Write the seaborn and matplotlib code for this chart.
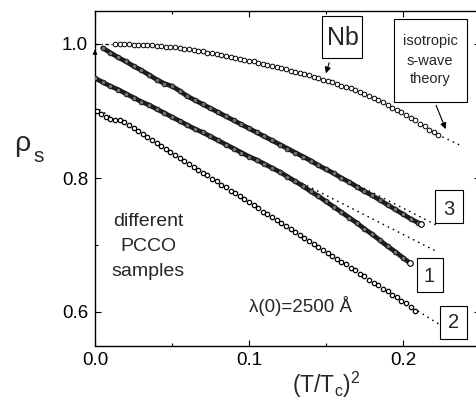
import matplotlib
matplotlib.use('Agg')
import matplotlib.pyplot as plt
from matplotlib.patches import Rectangle
from matplotlib.ticker import MultipleLocator
import seaborn as sns

# (T/Tc)^2 and superfluid density
t2_nb = [0.013, 0.016, 0.019, 0.022, 0.025, 0.028, 0.031, 0.034, 0.037, 0.040,
         0.043, 0.046, 0.049, 0.052, 0.055, 0.058, 0.061, 0.064, 0.067, 0.070,
         0.073, 0.076, 0.079, 0.082, 0.085, 0.088, 0.091, 0.094, 0.097, 0.100,
         0.103, 0.106, 0.109, 0.112, 0.115, 0.118, 0.121, 0.124, 0.127, 0.130,
         0.133, 0.136, 0.139, 0.142, 0.145, 0.148, 0.151, 0.154, 0.157, 0.160,
         0.163, 0.166, 0.169, 0.172, 0.175, 0.178, 0.181, 0.184, 0.187, 0.190,
         0.193, 0.196, 0.199, 0.202, 0.205, 0.208, 0.211, 0.214, 0.217, 0.220,
         0.223]
rho_nb = [1.000, 1.000, 1.000, 1.000, 0.999, 0.999, 0.999, 0.998, 0.998, 0.997,
          0.997, 0.996, 0.995, 0.995, 0.994, 0.993, 0.992, 0.991, 0.990, 0.989,
          0.987, 0.986, 0.985, 0.984, 0.982, 0.981, 0.979, 0.978, 0.976, 0.975,
          0.974, 0.972, 0.970, 0.969, 0.967, 0.966, 0.964, 0.962, 0.960, 0.958,
          0.957, 0.955, 0.953, 0.951, 0.949, 0.947, 0.945, 0.943, 0.941, 0.938,
          0.936, 0.934, 0.931, 0.928, 0.925, 0.922, 0.919, 0.916, 0.913, 0.909,
          0.905, 0.901, 0.898, 0.894, 0.890, 0.886, 0.881, 0.877, 0.872, 0.868,
          0.864]

t2_s3 = [0.005, 0.010, 0.015, 0.020, 0.025, 0.030, 0.035, 0.040, 0.045, 0.050,
         0.055, 0.060, 0.065, 0.070, 0.075, 0.080, 0.085, 0.090, 0.095, 0.100,
         0.105, 0.110, 0.115, 0.120, 0.125, 0.130, 0.135, 0.140, 0.145, 0.150,
         0.155, 0.160, 0.165, 0.170, 0.175, 0.180, 0.185, 0.190, 0.195, 0.200,
         0.205, 0.210, 0.212]
rho_s3 = [0.994, 0.987, 0.980, 0.974, 0.967, 0.961, 0.954, 0.947, 0.941, 0.937,
          0.930, 0.922, 0.916, 0.910, 0.904, 0.898, 0.892, 0.886, 0.880, 0.874,
          0.868, 0.862, 0.856, 0.850, 0.844, 0.838, 0.832, 0.826, 0.819, 0.813,
          0.807, 0.800, 0.794, 0.787, 0.780, 0.774, 0.767, 0.760, 0.753, 0.746,
          0.739, 0.733, 0.731]

t2_s1 = [0.000, 0.005, 0.010, 0.015, 0.020, 0.025, 0.030, 0.035, 0.040, 0.045,
         0.050, 0.055, 0.060, 0.065, 0.070, 0.075, 0.080, 0.085, 0.090, 0.095,
         0.100, 0.105, 0.110, 0.115, 0.120, 0.125, 0.130, 0.135, 0.140, 0.145,
         0.150, 0.155, 0.160, 0.165, 0.170, 0.175, 0.180, 0.185, 0.190, 0.195,
         0.200, 0.2045]
rho_s1 = [0.949, 0.943, 0.937, 0.932, 0.926, 0.920, 0.914, 0.909, 0.903, 0.897,
          0.891, 0.885, 0.879, 0.873, 0.868, 0.862, 0.856, 0.850, 0.844, 0.838,
          0.832, 0.827, 0.821, 0.815, 0.809, 0.802, 0.795, 0.788, 0.780, 0.773,
          0.765, 0.757, 0.749, 0.741, 0.733, 0.724, 0.716, 0.707, 0.698, 0.690,
          0.681, 0.673]

t2_s2 = [0.001, 0.004, 0.007, 0.010, 0.013, 0.016, 0.019, 0.022, 0.025, 0.028,
         0.031, 0.034, 0.037, 0.040, 0.043, 0.046, 0.049, 0.052, 0.055, 0.058,
         0.061, 0.064, 0.067, 0.070, 0.073, 0.076, 0.079, 0.082, 0.085, 0.088,
         0.091, 0.094, 0.097, 0.100, 0.103, 0.106, 0.109, 0.112, 0.115, 0.118,
         0.121, 0.124, 0.127, 0.130, 0.133, 0.136, 0.139, 0.142, 0.145, 0.148,
         0.151, 0.154, 0.157, 0.160, 0.163, 0.166, 0.169, 0.172, 0.175, 0.178,
         0.181, 0.184, 0.187, 0.190, 0.193, 0.196, 0.199, 0.202, 0.205, 0.208]
rho_s2 = [0.900, 0.896, 0.891, 0.888, 0.887, 0.886, 0.883, 0.879, 0.875, 0.870,
          0.866, 0.861, 0.857, 0.852, 0.848, 0.843, 0.839, 0.835, 0.830, 0.826,
          0.821, 0.817, 0.812, 0.808, 0.804, 0.799, 0.795, 0.790, 0.786, 0.781,
          0.777, 0.773, 0.768, 0.764, 0.759, 0.755, 0.750, 0.746, 0.742, 0.737,
          0.733, 0.728, 0.724, 0.719, 0.715, 0.710, 0.706, 0.702, 0.697, 0.693,
          0.688, 0.684, 0.679, 0.675, 0.671, 0.666, 0.662, 0.657, 0.653, 0.648,
          0.644, 0.640, 0.635, 0.631, 0.626, 0.622, 0.617, 0.613, 0.608, 0.602]

# dotted low-T extrapolations / s-wave theory
fit_nb_x, fit_nb_y = [0.226, 0.237], [0.861, 0.849]
fit_s3_x, fit_s3_y = [0.165, 0.224], [0.796, 0.727]
fit_s1_x, fit_s1_y = [0.115, 0.223], [0.815, 0.689]
fit_s2a_x, fit_s2a_y = [0.000, 0.014], [0.906, 0.886]
fit_s2b_x, fit_s2b_y = [0.210, 0.224], [0.601, 0.581]
ref_x, ref_y = [0.000, 0.013], [1.000, 1.000]

sns.set_style('ticks')
plt.rcParams['font.family'] = ['Liberation Sans', 'DejaVu Sans']
plt.rcParams['mathtext.fontset'] = 'custom'
plt.rcParams['mathtext.rm'] = 'Liberation Sans'
plt.rcParams['mathtext.it'] = 'Liberation Sans:italic'

fig = plt.figure(figsize=(4.77, 4.0), dpi=100)
ax = fig.add_axes([95 / 477, 54.5 / 400, 385 / 477, 335 / 400])

dots = (0, (0.1, 3.3))
for fx, fy in [(fit_nb_x, fit_nb_y), (fit_s3_x, fit_s3_y), (fit_s1_x, fit_s1_y),
               (fit_s2a_x, fit_s2a_y), (fit_s2b_x, fit_s2b_y)]:
    sns.lineplot(x=fx, y=fy, color='black', lw=1.2, linestyle=dots,
                 dash_capstyle='round', sort=False, estimator=None, ax=ax)
sns.lineplot(x=ref_x, y=ref_y, color='black', lw=0.9, linestyle=(0, (3, 2, 0.8, 2)),
             sort=False, estimator=None, ax=ax)

# Nb: open circles
sns.scatterplot(x=t2_nb, y=rho_nb, marker='o', s=11, color='white',
                edgecolor='black', linewidth=0.7, ax=ax, zorder=3)

# PCCO 3 and 1: dense overlapping circles -> dark band
for xs, ys in [(t2_s3, rho_s3), (t2_s1, rho_s1)]:
    sns.lineplot(x=xs, y=ys, color='#1e1e1e', lw=3.4, sort=False,
                 estimator=None, ax=ax)
    sns.scatterplot(x=xs, y=ys, marker='o', s=12, color='#6e6e6e',
                    edgecolor='black', linewidth=0.5, ax=ax, zorder=3)
    sns.scatterplot(x=xs[-1:], y=ys[-1:], marker='o', s=16, color='white',
                    edgecolor='black', linewidth=0.8, ax=ax, zorder=4)

# PCCO 2: small open circles
sns.scatterplot(x=t2_s2, y=rho_s2, marker='o', s=10, color='white',
                edgecolor='black', linewidth=0.9, ax=ax, zorder=3)

ax.set_xlim(0, 0.25)
ax.set_ylim(0.55, 1.05)
ax.xaxis.set_major_locator(MultipleLocator(0.1))
ax.xaxis.set_minor_locator(MultipleLocator(0.05))
ax.yaxis.set_major_locator(MultipleLocator(0.2))
ax.yaxis.set_minor_locator(MultipleLocator(0.1))
ax.tick_params(which='both', direction='in', top=True, right=True, width=0.8,
               labelsize=13.5, colors='black')
ax.tick_params(which='major', length=4.5)
ax.tick_params(which='minor', length=2.5)
ax.tick_params(axis='x', pad=4.5)
ax.tick_params(axis='y', pad=5)
for sp in ax.spines.values():
    sp.set_linewidth(1.0)
    sp.set_color('black')
ax.set_xlabel('')
ax.set_ylabel('')


def box(x0, x1, y0, y1):
    ax.add_patch(Rectangle((x0, y0), x1 - x0, y1 - y0, fill=False,
                           ec='black', lw=0.8, zorder=5))


box(0.1472, 0.1732, 0.9787, 1.0418)
ax.text(0.1609, 0.9985, 'Nb', fontsize=18, ha='center', va='baseline')
ax.annotate('', xy=(0.1494, 0.9522), xytext=(0.1526, 0.976),
            arrowprops=dict(arrowstyle='-|>', color='black', lw=0.8,
                            mutation_scale=9))

box(0.1942, 0.2416, 0.9134, 1.0373)
for line, yb in zip(['isotropic', 's-wave', 'theory'], [0.9985, 0.9687, 0.9413]):
    ax.text(0.2175, yb, line, fontsize=10.5, ha='center', va='baseline')
ax.annotate('', xy=(0.2284, 0.8691), xytext=(0.2208, 0.9124),
            arrowprops=dict(arrowstyle='-|>', color='black', lw=0.8,
                            mutation_scale=9))

ax.annotate('', xy=(0.0, 0.996), xytext=(0.0, 0.984),
            arrowprops=dict(arrowstyle='-|>', color='black', lw=0.6,
                            mutation_scale=7), annotation_clip=False)

box(0.2208, 0.2388, 0.7324, 0.7821)
ax.text(0.2299, 0.7448, '3', fontsize=14.5, ha='center', va='baseline')
box(0.2088, 0.2262, 0.6304, 0.6801)
ax.text(0.2171, 0.6452, '1', fontsize=14.5, ha='center', va='baseline')
box(0.2240, 0.2414, 0.5593, 0.6090)
ax.text(0.2327, 0.5757, '2', fontsize=14.5, ha='center', va='baseline')

for line, yb in zip(['different', 'PCCO', 'samples'], [0.7284, 0.6910, 0.6537]):
    ax.text(0.0344, yb, line, fontsize=14, ha='center', va='baseline')
ax.text(0.1334, 0.6005, 'λ(0)=2500 Å', fontsize=13.5, ha='center', va='baseline')

fig.text(14 / 477, 1 - 151.5 / 400, 'ρ', fontsize=20.5, ha='left', va='baseline')
fig.text(33.5 / 477, 1 - 161.7 / 400, 's', fontsize=15, ha='left', va='baseline')
fig.text(326 / 477, 1 - 393.3 / 400, r'$\mathregular{(T/T_c)^2}$', fontsize=16.5,
         ha='center', va='baseline')

fig.savefig('out.png', dpi=100)
plt.close(fig)
